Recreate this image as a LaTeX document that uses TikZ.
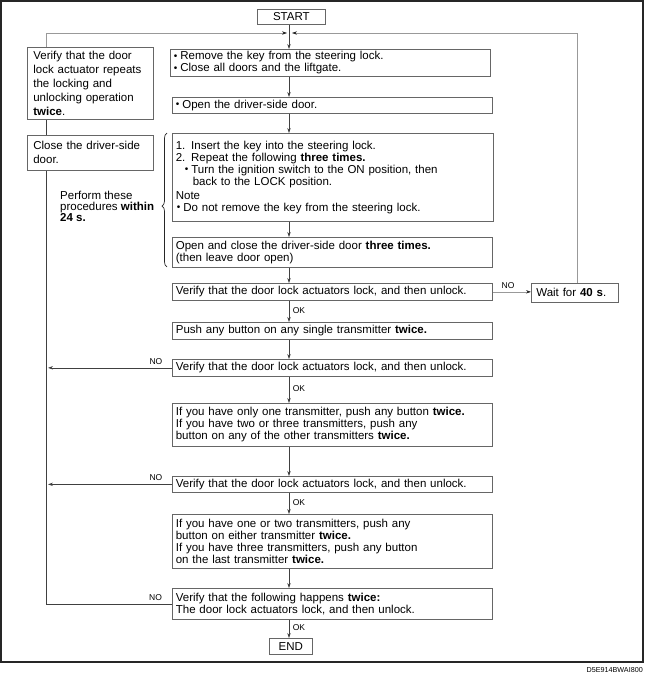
\documentclass[tikz,border=0pt]{standalone}
\usepackage{fontspec}
\setmainfont{Liberation Sans}
\usetikzlibrary{arrows.meta,decorations.pathreplacing}
\newcommand\mybul{{\fontsize{10}{12}\selectfont\raisebox{0.4pt}{\textbullet}}\hspace{3pt}}
\begin{document}
\begin{tikzpicture}[x=1pt,y=-1pt,
  box/.style={draw=black!60, line width=0.7pt, anchor=north west, align=left,
    inner xsep=3.5pt, inner ysep=1pt, font=\fontsize{11.5}{12}\selectfont, text=black},
  mbox/.style={box, text width=313pt, minimum height=#1},
  sbox/.style={draw=black!60, line width=0.7pt, anchor=north west, inner sep=0pt,
    font=\fontsize{11.5}{12}\selectfont, align=center},
  conn/.style={draw=black!75, line width=0.6pt},
  arr/.style={conn, -{Stealth[length=5pt,width=3.4pt]}},
  lconn/.style={draw=black!40, line width=0.6pt},
  larr/.style={lconn, -{Stealth[length=5pt,width=3.4pt,color=black!85]}},
  lab/.style={font=\fontsize{8.5}{9}\selectfont, inner sep=0pt},
  ok/.style={lab, anchor=west, xshift=3.5pt, pos=0.45},
]
\useasboundingbox (0,0) rectangle (645,682);
\draw[black!85, line width=1.1pt] (1,1) rectangle (643,662);

\coordinate (col) at (289,0);
\coordinate (lcol) at (46,0);
\coordinate (rcol) at (577,0);
\coordinate (mL) at (287,33);
\coordinate (mR) at (292,33);

% main column
\node[sbox, minimum width=68pt, minimum height=15pt] (start) at (257,9) {START};
\node[mbox=27pt, text width=313pt] (rm) at (170,49) {\mybul Remove the key from the steering lock.\\ \mybul Close all doors and the liftgate.};
\node[mbox=16pt] (open) at (172,97) {\mybul Open the driver-side door.};
\node[mbox=88pt, text width=314pt] (ins) at (172,133) {1. Insert the key into the steering lock.\\
2. Repeat the following \textbf{three times.}\\
\hspace*{9pt}\mybul Turn the ignition switch to the ON position, then\\
\hspace*{17pt}back to the LOCK position.\\[2pt]
Note\\
\hspace*{1pt}\mybul Do not remove the key from the steering lock.};
\node[mbox=30pt] (oc) at (172,237) {Open and close the driver-side door \textbf{three times.}\\(then leave door open)};
\node[mbox=17pt] (v1) at (172,283) {Verify that the door lock actuators lock, and then unlock.};
\node[mbox=17pt] (push) at (172,322) {Push any button on any single transmitter \textbf{twice.}};
\node[mbox=17pt] (v2) at (172,359) {Verify that the door lock actuators lock, and then unlock.};
\node[mbox=43pt] (b8) at (172,403) {If you have only one transmitter, push any button \textbf{twice.}\\If you have two or three transmitters, push any\\button on any of the other transmitters \textbf{twice.}};
\node[mbox=16pt] (v3) at (172,476) {Verify that the door lock actuators lock, and then unlock.};
\node[mbox=54pt] (b10) at (172,514) {If you have one or two transmitters, push any\\button on either transmitter \textbf{twice.}\\If you have three transmitters, push any button\\on the last transmitter \textbf{twice.}};
\node[mbox=31pt] (v4) at (172,588) {Verify that the following happens \textbf{twice:}\\The door lock actuators lock, and then unlock.};
\node[sbox, minimum width=43pt, minimum height=16pt] (end) at (269,638) {END};

% side boxes
\node[box, text width=77pt, minimum height=19pt, inner xsep=5pt] (wait) at (531,283) {Wait for \textbf{40 s}.};
\node[box, text width=114pt, inner xsep=6pt, minimum height=72pt, font=\fontsize{11.5}{14}\selectfont] (vleft) at (27,47) {Verify that the door\\lock actuator repeats\\the locking and\\unlocking operation\\\textbf{twice}.};
\node[box, text width=114pt, inner xsep=6pt, minimum height=35pt, font=\fontsize{11.5}{14}\selectfont] (close) at (27,135) {Close the driver-side\\door.};
\node[anchor=west, align=left, inner sep=0pt, font=\fontsize{11.5}{11}\selectfont] (perf) at (60,206) {Perform these\\procedures \textbf{within}\\\textbf{24 s.}};
\draw[black!85, line width=0.7pt, decorate, decoration={brace, amplitude=5pt, aspect=0.455}] (167,267) -- (167,133);

% main connectors
\draw[arr] (start.south -| col) -- (rm.north -| col);
\draw[arr] (rm.south -| col) -- (open.north -| col);
\draw[arr] (open.south -| col) -- (ins.north -| col);
\draw[arr] (ins.south -| col) -- (oc.north -| col);
\draw[arr] (oc.south -| col) -- (v1.north -| col);
\draw[arr] (v1.south -| col) -- node[ok] {OK} (push.north -| col);
\draw[arr] (push.south -| col) -- (v2.north -| col);
\draw[arr] (v2.south -| col) -- node[ok] {OK} (b8.north -| col);
\draw[arr] (b8.south -| col) -- (v3.north -| col);
\draw[arr] (v3.south -| col) -- node[ok] {OK} (b10.north -| col);
\draw[arr] (b10.south -| col) -- (v4.north -| col);
\draw[arr] (v4.south -| col) -- node[ok] {OK} (end.north -| col);

% NO branches
\draw[larr] (v1.east) -- node[lab, above=3pt, pos=0.4] {NO} (v1.east -| wait.west);
\draw[larr] (wait.north -| rcol) |- (mR);
\draw[arr] (v2.west) -- node[lab, above=3pt, pos=0.13] {NO} ([xshift=2pt]v2.west -| lcol);
\draw[arr] (v3.west) -- node[lab, above=3pt, pos=0.13] {NO} ([xshift=2pt]v3.west -| lcol);
\draw[conn] (v4.west) -- node[lab, above=3pt, pos=0.13] {NO} (v4.west -| lcol) -- (close.south -| lcol);
\draw[conn] (close.north -| lcol) -- (vleft.south -| lcol);
\draw[larr] (vleft.north -| lcol) |- (mL);

\node[anchor=east, inner sep=0pt, font=\fontsize{7.2}{8}\selectfont] (code) at (643,670) {D5E914BWAI800};
\end{tikzpicture}
\end{document}
